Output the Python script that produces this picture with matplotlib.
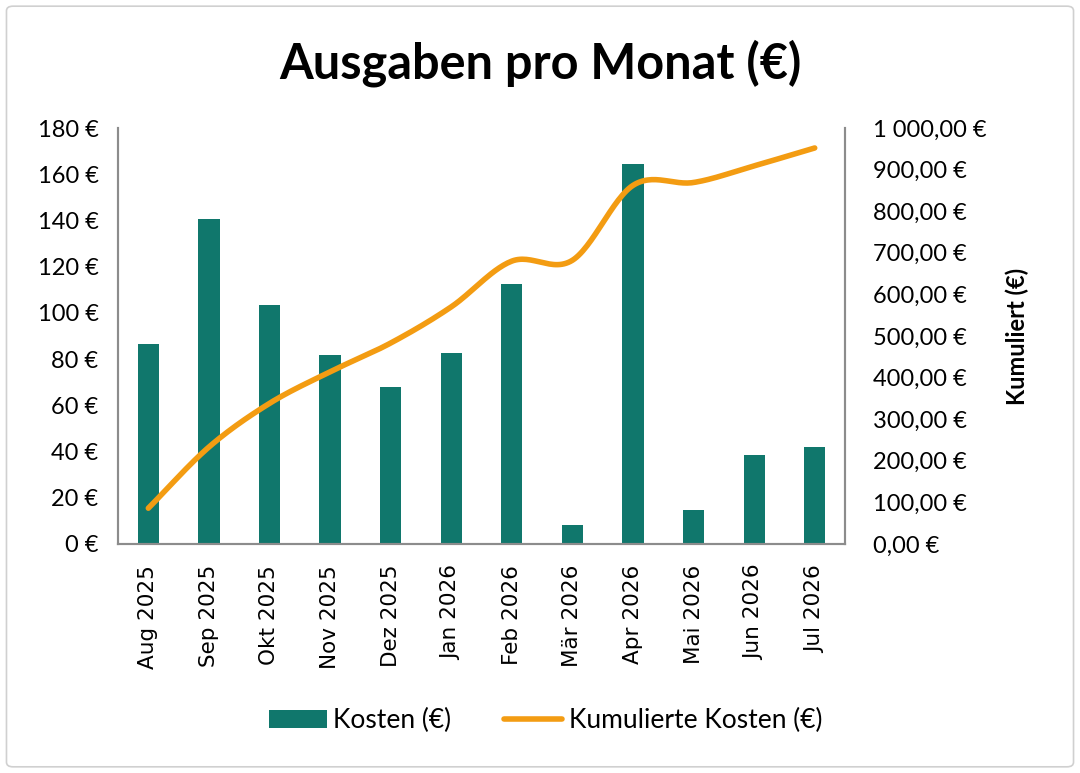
import matplotlib.pyplot as plt
import numpy as np
from matplotlib.patches import FancyBboxPatch
from matplotlib.ticker import FuncFormatter

months = ["Aug 2025", "Sep 2025", "Okt 2025", "Nov 2025", "Dez 2025", "Jan 2026",
          "Feb 2026", "Mär 2026", "Apr 2026", "Mai 2026", "Jun 2026", "Jul 2026"]
kosten = [86.4, 140.7, 103.4, 81.7, 67.8, 82.8, 112.3, 8.4, 164.3, 14.9, 38.5, 42.0]
kumuliert = [86, 233, 338, 414, 483, 570, 680, 682, 862, 869, 909, 952]

BAR_COLOR = "#10776C"
LINE_COLOR = "#F39C12"
GREY = "#8C8C8C"
FONT = "Lato"


def smooth(x, y, n=30):
    # Catmull-Rom Kurve durch die Punkte (wie geglaettete Linie in Excel)
    x = np.asarray(x, float)
    y = np.asarray(y, float)
    px = np.concatenate([[2 * x[0] - x[1]], x, [2 * x[-1] - x[-2]]])
    py = np.concatenate([[2 * y[0] - y[1]], y, [2 * y[-1] - y[-2]]])
    xs, ys = [], []
    t = np.linspace(0, 1, n)
    for i in range(1, len(px) - 2):
        for p, out in ((px, xs), (py, ys)):
            p0, p1, p2, p3 = p[i - 1], p[i], p[i + 1], p[i + 2]
            out.extend(0.5 * (2 * p1 + (-p0 + p2) * t + (2 * p0 - 5 * p1 + 4 * p2 - p3) * t ** 2
                              + (-p0 + 3 * p1 - 3 * p2 + p3) * t ** 3))
    return np.array(xs), np.array(ys)


def euro_left(v, pos):
    return f"{v:.0f} €"


def euro_right(v, pos):
    s = f"{v:,.2f}".replace(",", " ").replace(".", ",")
    return f"{s} €"


fig = plt.figure(figsize=(10.8, 7.73), dpi=100)
fig.patches.append(FancyBboxPatch((0.006, 0.008), 0.988, 0.984, boxstyle="round,pad=0,rounding_size=0.006",
                                  transform=fig.transFigure, fill=False, edgecolor="#D0D0D0", lw=1.2))

ax = fig.add_axes([0.1093, 0.2963, 0.6731, 0.5381])
x = np.arange(len(months))
bars = ax.bar(x, kosten, width=0.35, color=BAR_COLOR, label="Kosten (€)", zorder=2)
ax.set_xlim(-0.5, len(months) - 0.5)
ax.set_ylim(0, 180)
ax.set_yticks(np.arange(0, 181, 20))
ax.yaxis.set_major_formatter(FuncFormatter(euro_left))
ax.set_xticks(x)
ax.set_xticklabels(months, rotation=90, family="DejaVu Sans", fontsize=15.5)
ax.tick_params(axis="x", length=0, pad=15)
ax.tick_params(axis="y", length=0, pad=14, labelsize=17)
for lab in ax.get_yticklabels():
    lab.set_family(FONT)

ax2 = ax.twinx()
sx, sy = smooth(x, kumuliert)
line, = ax2.plot(sx, sy, color=LINE_COLOR, lw=4, solid_capstyle="round", label="Kumulierte Kosten (€)", zorder=3)
ax2.set_ylim(0, 1000)
ax2.set_yticks(np.arange(0, 1001, 100))
ax2.yaxis.set_major_formatter(FuncFormatter(euro_right))
ax2.tick_params(axis="y", length=0, pad=20, labelsize=17)
for lab in ax2.get_yticklabels():
    lab.set_family(FONT)
ax2.set_ylabel("Kumuliert (€)", family=FONT, fontsize=17, fontweight="bold", labelpad=14)

for a in (ax, ax2):
    a.spines["top"].set_visible(False)
    for s in ("left", "right", "bottom"):
        a.spines[s].set_color(GREY)
        a.spines[s].set_linewidth(1.5)

fig.text(0.5, 0.918, "Ausgaben pro Monat (€)", ha="center", va="center",
         family=FONT, fontsize=35, fontweight="bold")

fig.legend([bars, line], ["Kosten (€)", "Kumulierte Kosten (€)"], loc="center",
           bbox_to_anchor=(0.505, 0.068), ncol=2, frameon=False,
           prop={"family": FONT, "size": 19}, handlelength=2.2, handletextpad=0.25, columnspacing=2.0)

fig.savefig("out.png", dpi=100)
